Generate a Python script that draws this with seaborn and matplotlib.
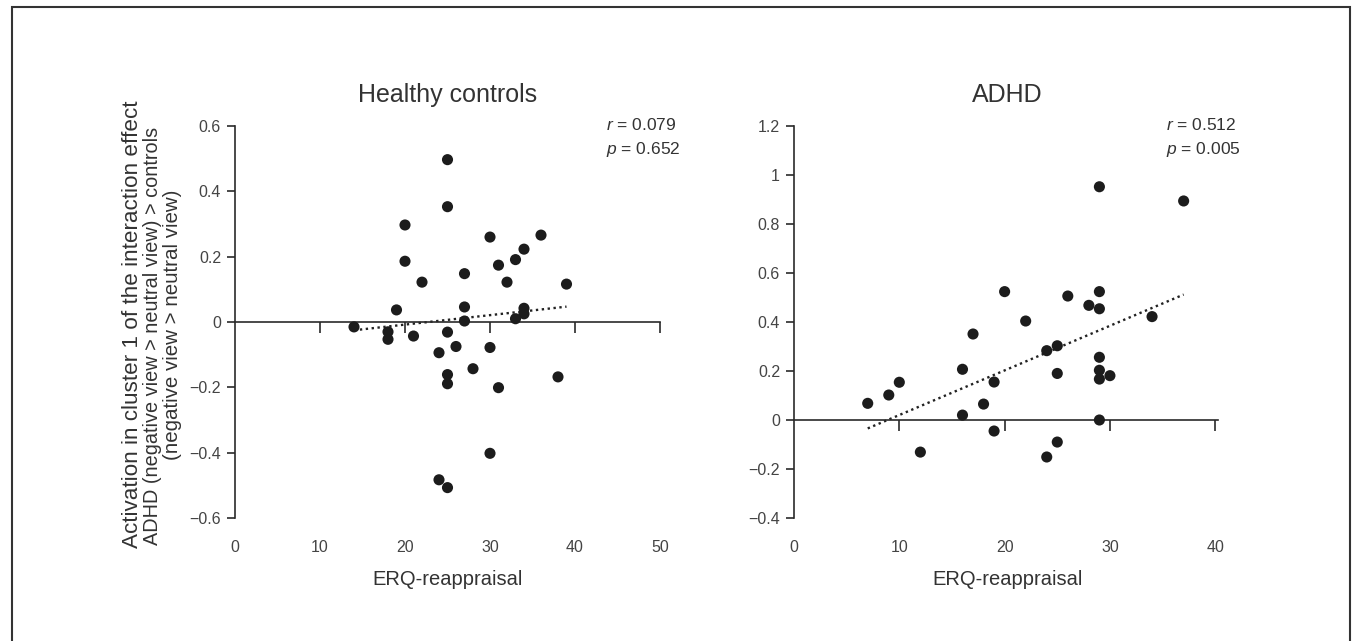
import matplotlib
matplotlib.use("Agg")
import matplotlib.pyplot as plt
import seaborn as sns
import numpy as np
import pandas as pd
from matplotlib.patches import Rectangle

# ---------------- data ----------------
hc_erq = [25, 25, 20, 20, 22, 19, 14, 27, 27, 27, 30, 31, 32, 33, 34, 36, 34, 34, 33, 39,
          18, 18, 21, 25, 24, 26, 30, 28, 25, 25, 31, 38, 30, 24, 25]
hc_act = [0.497, 0.353, 0.297, 0.186, 0.122, 0.037, -0.015, 0.148, 0.046, 0.003, 0.260, 0.174,
          0.122, 0.191, 0.223, 0.266, 0.042, 0.025, 0.010, 0.116,
          -0.030, -0.053, -0.043, -0.031, -0.094, -0.075, -0.078, -0.143, -0.161, -0.189,
          -0.201, -0.168, -0.402, -0.483, -0.507]

adhd_erq = [7, 9, 10, 12, 16, 16, 17, 18, 19, 19, 20, 22, 24, 24, 25, 25, 25, 26, 28,
            29, 29, 29, 29, 29, 29, 29, 30, 34, 37]
adhd_act = [0.068, 0.102, 0.154, -0.131, 0.207, 0.020, 0.351, 0.065, 0.155, -0.045, 0.524,
            0.404, 0.283, -0.151, 0.303, 0.190, -0.090, 0.506, 0.468, 0.952, 0.524, 0.454,
            0.256, 0.203, 0.167, 0.000, 0.181, 0.422, 0.894]

hc_xticks = [0, 10, 20, 30, 40, 50]
adhd_xticks = [0, 10, 20, 30, 40]
hc_yticks = [-0.6, -0.4, -0.2, 0, 0.2, 0.4, 0.6]
hc_yticklabels = ["\u22120.6", "\u22120.4", "\u22120.2", "0", "0.2", "0.4", "0.6"]
adhd_yticks = [-0.4, -0.2, 0, 0.2, 0.4, 0.6, 0.8, 1.0, 1.2]
adhd_yticklabels = ["\u22120.4", "\u22120.2", "0", "0.2", "0.4", "0.6", "0.8", "1", "1.2"]

titles = ["Healthy controls", "ADHD"]
stats = [("0.079", "0.652"), ("0.512", "0.005")]
xlabel = "ERQ-reappraisal"
ylabel_lines = ["Activation in cluster 1 of the interaction effect",
                "ADHD (negative view > neutral view) > controls",
                "(negative view > neutral view)"]

# ---------------- style ----------------
sns.set_theme(style="white")
plt.rcParams["font.family"] = ["Liberation Sans", "DejaVu Sans"]
plt.rcParams["mathtext.fontset"] = "custom"
plt.rcParams["mathtext.it"] = "Liberation Sans:italic"
plt.rcParams["mathtext.rm"] = "Liberation Sans"

TXT = "#333333"
AX = "#2a2a2a"
DOT = "#1c1c1c"

W, H = 1357, 641
fig = plt.figure(figsize=(W / 100, H / 100), dpi=100)
fig.patch.set_facecolor("white")

ax1 = fig.add_axes([235 / W, 123 / H, 425 / W, 392 / H])
ax2 = fig.add_axes([794 / W, 123 / H, 426.5 / W, 392 / H])

panels = [
    (ax1, hc_erq, hc_act, hc_xticks, hc_yticks, hc_yticklabels, (0, 50), (-0.6, 0.6), 50),
    (ax2, adhd_erq, adhd_act, adhd_xticks, adhd_yticks, adhd_yticklabels, (0, 40.5), (-0.4, 1.2), 40.3),
]

for i, (ax, xs, ys, xt, yt, ytl, xl, yl, xend) in enumerate(panels):
    df = pd.DataFrame({"x": xs, "y": ys})
    sns.scatterplot(data=df, x="x", y="y", ax=ax, color=DOT, s=64, edgecolor="none",
                    zorder=3, legend=False)
    sns.regplot(data=df, x="x", y="y", ax=ax, scatter=False, ci=None,
                line_kws=dict(color="#222222", lw=1.7, ls=(0, (1, 1.5))))
    ax.set_xlim(*xl)
    ax.set_ylim(*yl)
    ax.set_xlabel("")
    ax.set_ylabel("")
    for s in ["top", "right"]:
        ax.spines[s].set_visible(False)
    ax.spines["left"].set_color(AX)
    ax.spines["left"].set_linewidth(1.2)
    ax.spines["bottom"].set_color(AX)
    ax.spines["bottom"].set_linewidth(1.2)
    ax.spines["bottom"].set_position(("data", 0))
    ax.spines["bottom"].set_bounds(0, xend)
    ax.set_xticks([t for t in xt if t > 0])
    ax.tick_params(axis="x", direction="out", length=8, width=1.2, color=AX,
                   labelbottom=False, bottom=True)
    ax.set_yticks(yt)
    ax.set_yticklabels(ytl)
    ax.tick_params(axis="y", direction="out", length=6, width=1.2, color=AX,
                   labelsize=11.5, labelcolor="#444444", pad=4, left=True)
    sec = ax.secondary_xaxis("bottom")
    sec.set_xticks(xt)
    sec.set_xticklabels([str(t) for t in xt])
    sec.spines["bottom"].set_visible(False)
    sec.tick_params(length=0, pad=16, labelsize=11.5, labelcolor="#444444")
    ax.set_title(titles[i], fontsize=18, color=TXT, pad=17)
    ax.text(0.5, -0.158, xlabel, transform=ax.transAxes, ha="center", va="center",
            fontsize=14.5, color=TXT)
    r, p = stats[i]
    ax.text(0.873, 1.0026, r"$\it{r}$ = " + r, transform=ax.transAxes, ha="left",
            va="center", fontsize=12.5, color=TXT)
    ax.text(0.873, 0.939, r"$\it{p}$ = " + p, transform=ax.transAxes, ha="left",
            va="center", fontsize=12.5, color=TXT)

# y label (three lines)
fig.text(132 / W, 1 - 324 / H, ylabel_lines[0], rotation=90, ha="center", va="center",
         fontsize=16.2, color=TXT)
fig.text(153 / W, 1 - 336 / H, ylabel_lines[1], rotation=90, ha="center", va="center",
         fontsize=14.3, color=TXT)
fig.text(172 / W, 1 - 325 / H, ylabel_lines[2], rotation=90, ha="center", va="center",
         fontsize=14.8, color=TXT)

# figure frame
fig.patches.append(Rectangle((12 / W, -0.05), (1350 - 12) / W, 1.05 - 7 / H,
                             transform=fig.transFigure, fill=False, lw=1.5,
                             edgecolor="#333333", clip_on=False))

fig.savefig("out.png", dpi=100, facecolor="white")
